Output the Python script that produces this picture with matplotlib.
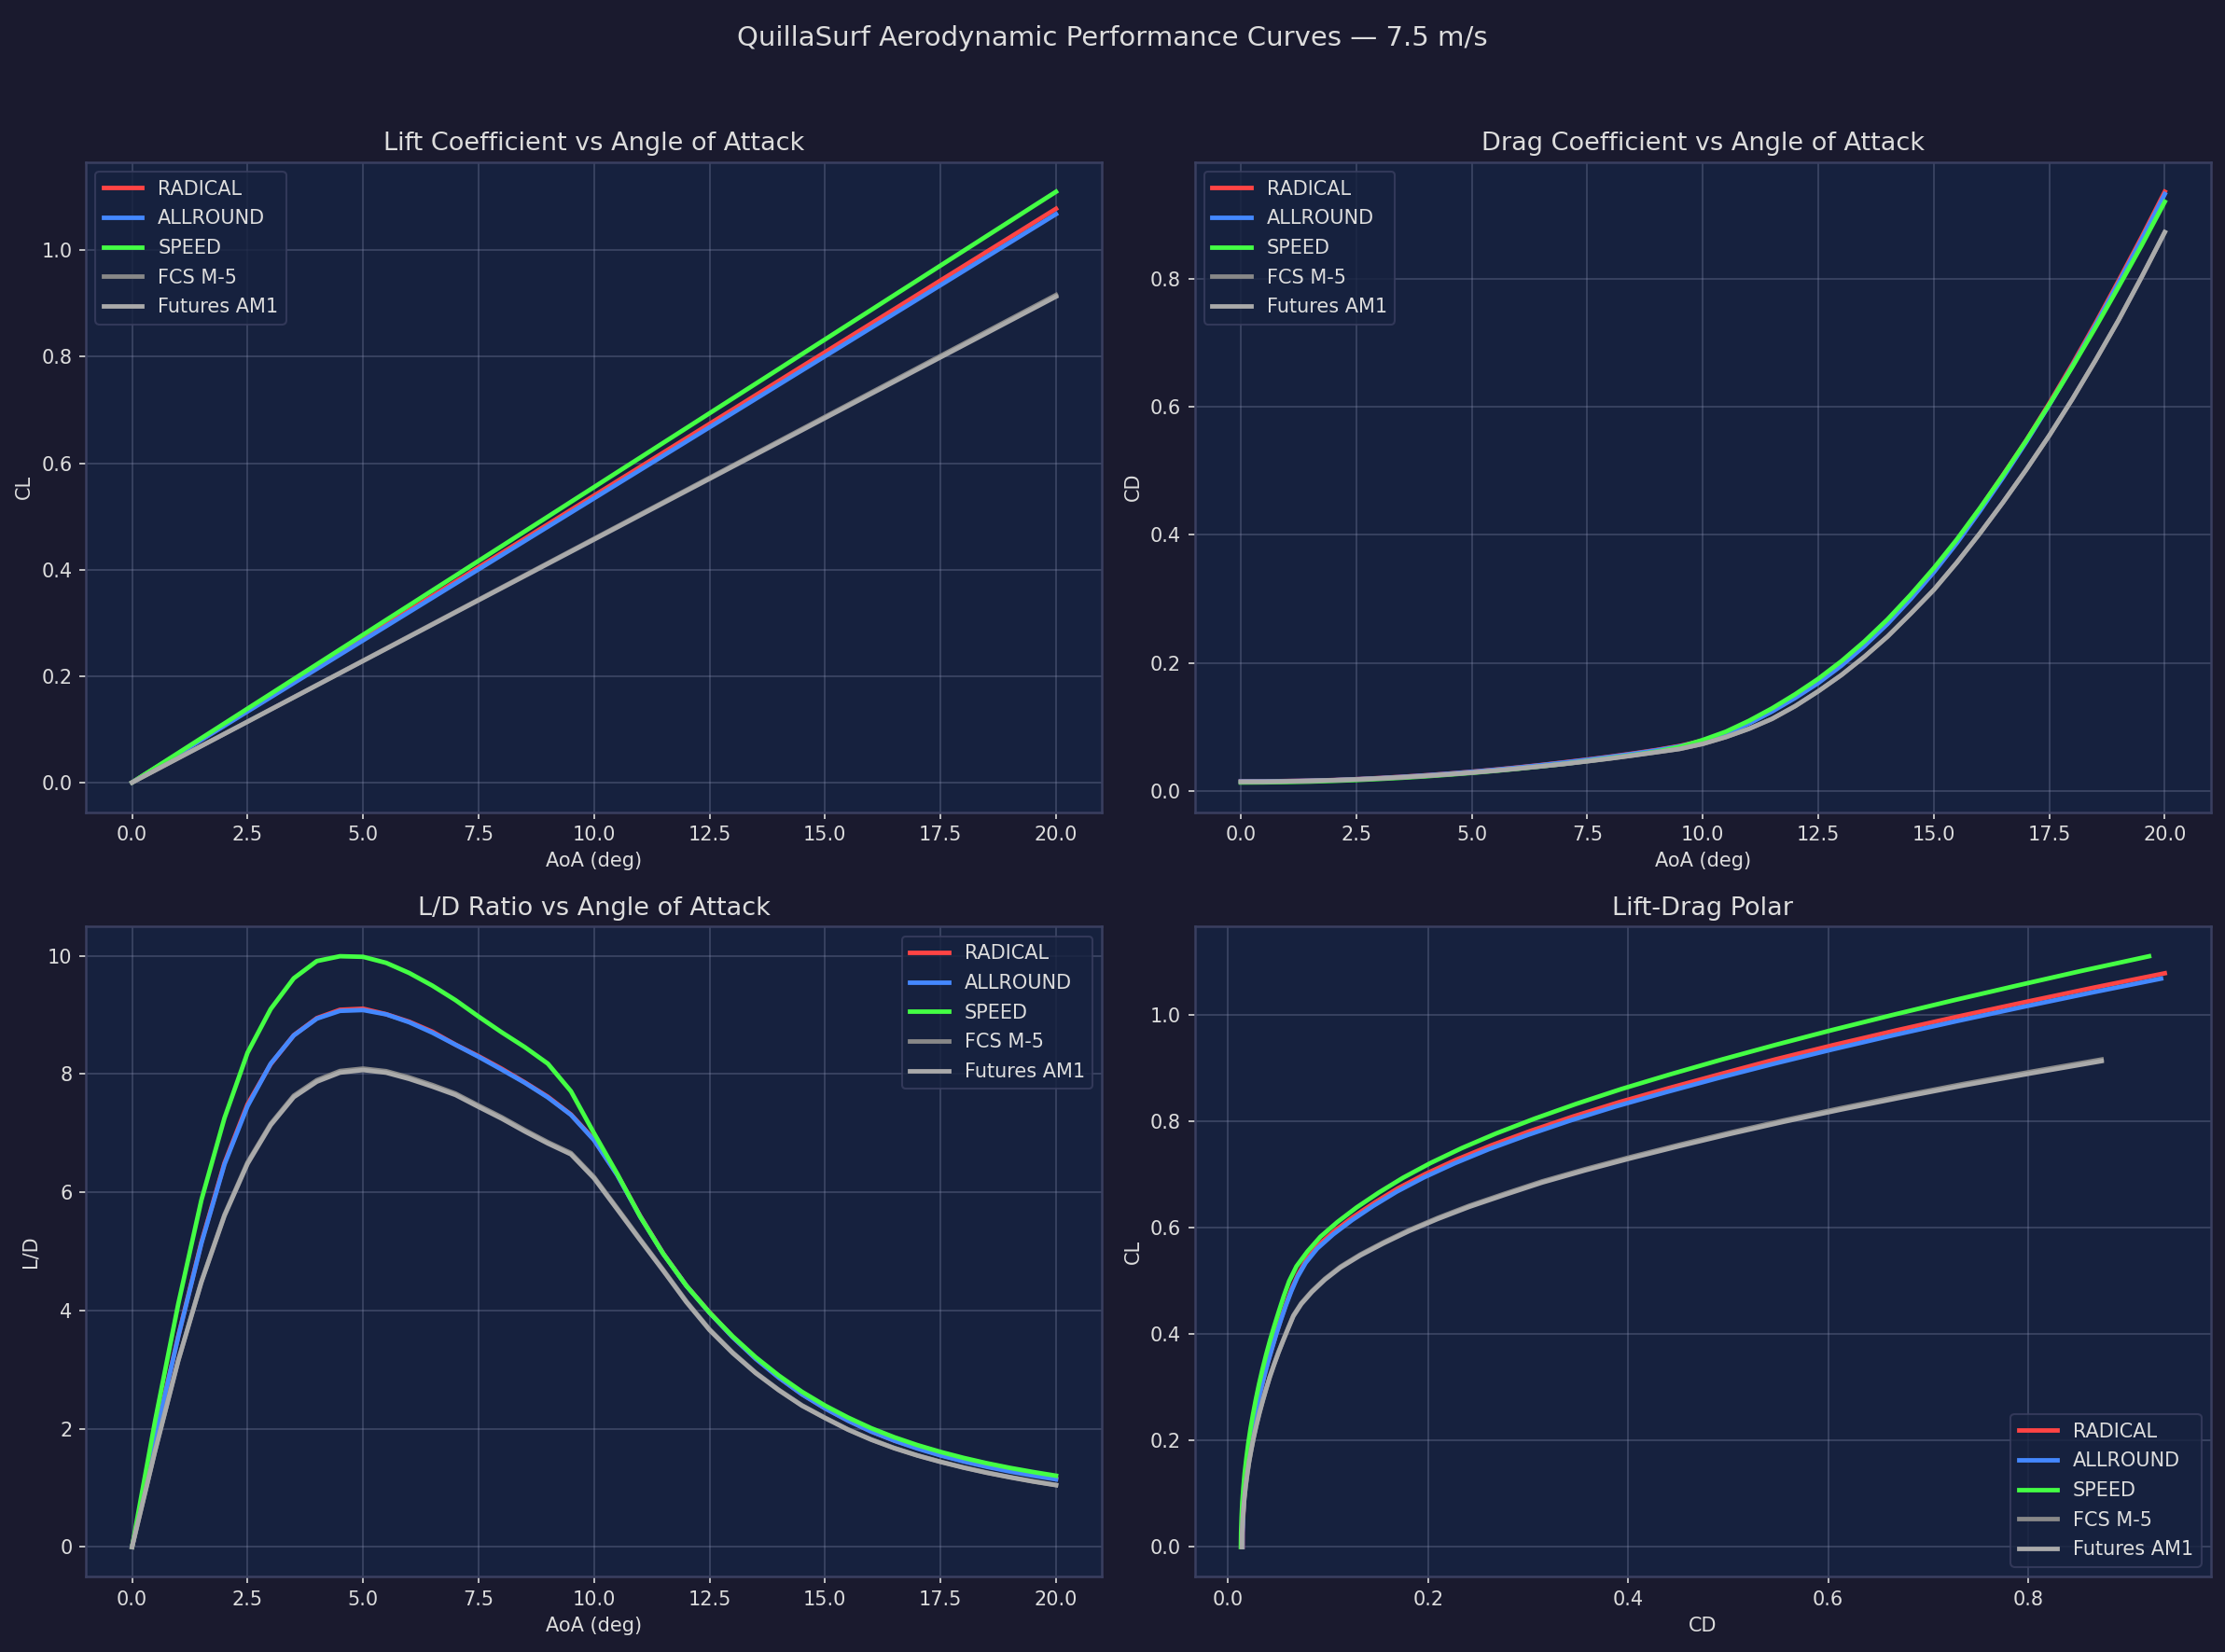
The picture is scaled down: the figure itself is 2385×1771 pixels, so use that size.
import numpy as np
import matplotlib
matplotlib.use("Agg")
from matplotlib import pyplot as plt

# angle of attack grid (deg)
aoa = np.linspace(0, 20, 41)

names = ["RADICAL", "ALLROUND", "SPEED", "FCS M-5", "Futures AM1"]
colors = ["#ff4444", "#4488ff", "#44ff44", "#888888", "#aaaaaa"]

# lift coefficient
cl_radical = [0, 0.0270, 0.0539, 0.0809, 0.1078, 0.1348, 0.1617, 0.1887, 0.2156, 0.2426, 0.2695,
              0.2965, 0.3234, 0.3504, 0.3773, 0.4043, 0.4312, 0.4582, 0.4851, 0.5121, 0.5390,
              0.5660, 0.5929, 0.6199, 0.6468, 0.6738, 0.7007, 0.7277, 0.7546, 0.7816, 0.8085,
              0.8355, 0.8624, 0.8894, 0.9163, 0.9433, 0.9702, 0.9972, 1.0241, 1.0511, 1.0780]
cl_allround = [0, 0.0267, 0.0534, 0.0801, 0.1068, 0.1335, 0.1602, 0.1869, 0.2136, 0.2403, 0.2670,
               0.2937, 0.3204, 0.3471, 0.3738, 0.4005, 0.4272, 0.4539, 0.4806, 0.5073, 0.5340,
               0.5607, 0.5874, 0.6141, 0.6408, 0.6675, 0.6942, 0.7209, 0.7476, 0.7743, 0.8010,
               0.8277, 0.8544, 0.8811, 0.9078, 0.9345, 0.9612, 0.9879, 1.0146, 1.0413, 1.0680]
cl_speed = [0, 0.0278, 0.0555, 0.0833, 0.1110, 0.1388, 0.1665, 0.1943, 0.2220, 0.2498, 0.2775,
            0.3053, 0.3330, 0.3608, 0.3885, 0.4163, 0.4440, 0.4718, 0.4995, 0.5273, 0.5550,
            0.5828, 0.6105, 0.6383, 0.6660, 0.6938, 0.7215, 0.7493, 0.7770, 0.8048, 0.8325,
            0.8603, 0.8880, 0.9158, 0.9435, 0.9713, 0.9990, 1.0268, 1.0545, 1.0823, 1.1100]
cl_fcs = [0, 0.0229, 0.0458, 0.0687, 0.0916, 0.1145, 0.1374, 0.1603, 0.1832, 0.2061, 0.2290,
          0.2519, 0.2748, 0.2977, 0.3206, 0.3435, 0.3664, 0.3893, 0.4122, 0.4351, 0.4580,
          0.4809, 0.5038, 0.5267, 0.5496, 0.5725, 0.5954, 0.6183, 0.6412, 0.6641, 0.6870,
          0.7099, 0.7328, 0.7557, 0.7786, 0.8015, 0.8244, 0.8473, 0.8702, 0.8931, 0.9160]
cl_futures = [0, 0.0228, 0.0457, 0.0685, 0.0913, 0.1141, 0.1370, 0.1598, 0.1826, 0.2054, 0.2283,
              0.2511, 0.2739, 0.2967, 0.3196, 0.3424, 0.3652, 0.3880, 0.4109, 0.4337, 0.4565,
              0.4793, 0.5022, 0.5250, 0.5478, 0.5706, 0.5935, 0.6163, 0.6391, 0.6619, 0.6848,
              0.7076, 0.7304, 0.7532, 0.7761, 0.7989, 0.8217, 0.8445, 0.8674, 0.8902, 0.9130]

# drag coefficient
cd_radical = [0.0145, 0.0146, 0.0151, 0.0157, 0.0166, 0.0180, 0.0198, 0.0218, 0.0241, 0.0267, 0.0296,
              0.0329, 0.0364, 0.0402, 0.0444, 0.0487, 0.0533, 0.0583, 0.0637, 0.0700, 0.0782,
              0.0898, 0.1059, 0.1249, 0.1463, 0.1698, 0.1972, 0.2283, 0.2631, 0.3022, 0.3444,
              0.3906, 0.4411, 0.4939, 0.5475, 0.6058, 0.6670, 0.7310, 0.7975, 0.8658, 0.9367]
cd_allround = [0.0144, 0.0145, 0.0150, 0.0156, 0.0165, 0.0179, 0.0196, 0.0216, 0.0239, 0.0265, 0.0294,
               0.0326, 0.0361, 0.0399, 0.0440, 0.0483, 0.0529, 0.0578, 0.0632, 0.0694, 0.0776,
               0.0891, 0.1051, 0.1239, 0.1451, 0.1685, 0.1956, 0.2265, 0.2610, 0.2998, 0.3417,
               0.3875, 0.4376, 0.4900, 0.5453, 0.6034, 0.6643, 0.7281, 0.7943, 0.8624, 0.9330]
cd_speed = [0.0128, 0.0130, 0.0135, 0.0142, 0.0153, 0.0166, 0.0183, 0.0202, 0.0224, 0.0250, 0.0278,
            0.0309, 0.0343, 0.0380, 0.0420, 0.0464, 0.0510, 0.0558, 0.0611, 0.0684, 0.0793,
            0.0923, 0.1093, 0.1288, 0.1508, 0.1750, 0.2025, 0.2335, 0.2680, 0.3065, 0.3480,
            0.3930, 0.4420, 0.4935, 0.5475, 0.6040, 0.6630, 0.7245, 0.7880, 0.8530, 0.9210]
cd_fcs = [0.0139, 0.0140, 0.0145, 0.0153, 0.0163, 0.0176, 0.0192, 0.0210, 0.0232, 0.0256, 0.0283,
          0.0313, 0.0346, 0.0381, 0.0418, 0.0460, 0.0504, 0.0552, 0.0602, 0.0653, 0.0732,
          0.0839, 0.0968, 0.1124, 0.1323, 0.1555, 0.1809, 0.2096, 0.2412, 0.2770, 0.3141,
          0.3569, 0.4027, 0.4512, 0.5020, 0.5555, 0.6125, 0.6730, 0.7360, 0.8035, 0.8735]
cd_futures = [0.0139, 0.0140, 0.0145, 0.0153, 0.0163, 0.0176, 0.0192, 0.0210, 0.0232, 0.0256, 0.0283,
              0.0313, 0.0346, 0.0381, 0.0418, 0.0460, 0.0504, 0.0552, 0.0602, 0.0653, 0.0732,
              0.0839, 0.0968, 0.1124, 0.1323, 0.1555, 0.1809, 0.2096, 0.2412, 0.2770, 0.3141,
              0.3569, 0.4027, 0.4512, 0.5020, 0.5555, 0.6125, 0.6730, 0.7360, 0.8035, 0.8735]

cl_all = [cl_radical, cl_allround, cl_speed, cl_fcs, cl_futures]
cd_all = [cd_radical, cd_allround, cd_speed, cd_fcs, cd_futures]

bg = "#1a1a2e"
panel = "#16213e"
txt = "#dddddd"

plt.rcParams["font.family"] = "DejaVu Sans"
fig, axs = plt.subplots(2, 2, figsize=(15.9, 11.8067), dpi=150)
fig.patch.set_facecolor(bg)
fig.subplots_adjust(left=0.0386, right=0.9937, top=0.9018, bottom=0.0457,
                    wspace=0.091, hspace=0.1765)
fig.suptitle("QuillaSurf Aerodynamic Performance Curves \u2014 7.5 m/s",
             color=txt, fontsize=14, y=0.985)

ax1, ax2, ax3, ax4 = axs[0, 0], axs[0, 1], axs[1, 0], axs[1, 1]

for i in range(5):
    cl = np.array(cl_all[i])
    cd = np.array(cd_all[i])
    ld = np.where(cd > 0, cl / cd, 0)
    ax1.plot(aoa, cl, color=colors[i], lw=2.3, label=names[i])
    ax2.plot(aoa, cd, color=colors[i], lw=2.3, label=names[i])
    ax3.plot(aoa, ld, color=colors[i], lw=2.3, label=names[i])
    ax4.plot(cd, cl, color=colors[i], lw=2.3, label=names[i])

titles = ["Lift Coefficient vs Angle of Attack", "Drag Coefficient vs Angle of Attack",
          "L/D Ratio vs Angle of Attack", "Lift-Drag Polar"]
xlabels = ["AoA (deg)", "AoA (deg)", "AoA (deg)", "CD"]
ylabels = ["CL", "CD", "L/D", "CL"]
locs = ["upper left", "upper left", "upper right", "lower right"]

for ax, t, xl, yl, lc in zip([ax1, ax2, ax3, ax4], titles, xlabels, ylabels, locs):
    ax.set_facecolor(panel)
    ax.set_title(t, color=txt, fontsize=13)
    ax.set_xlabel(xl, color=txt, fontsize=10)
    ax.set_ylabel(yl, color=txt, fontsize=10)
    ax.tick_params(colors=txt, labelsize=10)
    ax.grid(True, color="#8890b0", alpha=0.3, lw=0.9)
    for s in ax.spines.values():
        s.set_color("#3a3f60")
        s.set_linewidth(1.2)
    leg = ax.legend(loc=lc, fontsize=10, labelspacing=0.56, facecolor=panel,
                    edgecolor="#3a3f60", framealpha=0.8, labelcolor=txt)

plt.savefig("out.png", dpi=150, facecolor=bg)
